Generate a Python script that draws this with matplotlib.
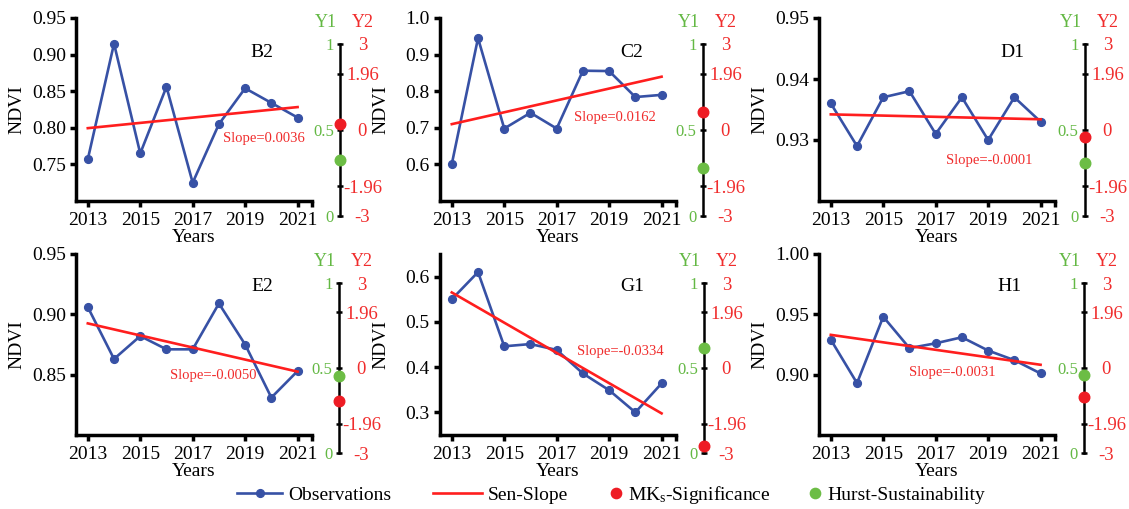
import matplotlib
matplotlib.use("Agg")
import matplotlib.pyplot as plt
from matplotlib.lines import Line2D

plt.rcParams["font.family"] = ["Liberation Serif", "DejaVu Serif"]
plt.rcParams["mathtext.fontset"] = "custom"
plt.rcParams["mathtext.rm"] = "Liberation Serif"
plt.rcParams["mathtext.it"] = "Liberation Serif:italic"
plt.rcParams["axes.unicode_minus"] = False

# ---------------- data ----------------
years = [2013, 2014, 2015, 2016, 2017, 2018, 2019, 2020, 2021]
sites = ["B2", "C2", "D1", "E2", "G1", "H1"]

ndvi_b2 = [0.757, 0.915, 0.765, 0.856, 0.725, 0.805, 0.854, 0.834, 0.814]
ndvi_c2 = [0.601, 0.945, 0.698, 0.741, 0.698, 0.856, 0.855, 0.784, 0.790]
ndvi_d1 = [0.936, 0.929, 0.937, 0.938, 0.931, 0.937, 0.930, 0.937, 0.933]
ndvi_e2 = [0.906, 0.863, 0.882, 0.871, 0.871, 0.909, 0.875, 0.831, 0.853]
ndvi_g1 = [0.550, 0.610, 0.446, 0.451, 0.438, 0.386, 0.349, 0.300, 0.364]
ndvi_h1 = [0.929, 0.893, 0.948, 0.922, 0.926, 0.931, 0.920, 0.912, 0.901]

sen_slope = [0.0036, 0.0162, -0.0001, -0.0050, -0.0334, -0.0031]
sen_start = [0.7995, 0.710, 0.9342, 0.8925, 0.565, 0.9330]   # Sen line value in 2013

mk_z = [0.21, 0.62, -0.26, -1.15, -2.76, -1.03]       # MKs statistic (Y2)
hurst = [0.326, 0.28, 0.311, 0.455, 0.615, 0.456]     # Hurst exponent (Y1)

ndvi_ylims = [(0.70, 0.95), (0.5, 1.0), (0.92, 0.95), (0.80, 0.95), (0.25, 0.65), (0.85, 1.00)]
ndvi_yticks = [[0.75, 0.80, 0.85, 0.90, 0.95],
               [0.6, 0.7, 0.8, 0.9, 1.0],
               [0.93, 0.94, 0.95],
               [0.85, 0.90, 0.95],
               [0.3, 0.4, 0.5, 0.6],
               [0.90, 0.95, 1.00]]
ndvi_fmt = ["{:.2f}", "{:.1f}", "{:.2f}", "{:.2f}", "{:.1f}", "{:.2f}"]
year_ticks = [2013, 2015, 2017, 2019, 2021]

y2_ticks = [-3, -1.96, 0, 1.96, 3]
y2_labels = ["-3", "-1.96", "0", "1.96", "3"]
y1_ticks = [0, 0.5, 1]
y1_labels = ["0", "0.5", "1"]

ndvi_all = [ndvi_b2, ndvi_c2, ndvi_d1, ndvi_e2, ndvi_g1, ndvi_h1]

# ---------------- styling / layout ----------------
BLUE = "#3751A5"
RED = "#FF1E1E"
RED_TXT = "#F02C2C"
GREEN = "#6CBD45"
GREEN_TXT = "#63B843"

W, H = 1129, 509
PT = 0.72  # points per pixel at 100 dpi

x2013 = [88, 452, 831, 88, 452, 831]
row_top = [18, 18, 18, 254, 254, 254]
row_bot = [201, 201, 201, 435, 435, 435]
aux_x = [340, 703, 1085, 339, 704, 1084]
aux_top = [44, 44, 44, 283, 283, 283]
aux_bot = [216, 216, 216, 453, 453, 453]
title_pos = [(0.788, 0.814), (0.814, 0.814), (0.818, 0.814),
             (0.788, 0.818), (0.814, 0.818), (0.809, 0.818)]
slope_pos = [(0.797, 0.344), (0.742, 0.454), (0.720, 0.224),
             (0.580, 0.331), (0.763, 0.459), (0.564, 0.343)]

fig = plt.figure(figsize=(W / 100, H / 100), dpi=100)


def rect(x0, x1, ytop, ybot):
    return [x0 / W, 1 - ybot / H, (x1 - x0) / W, (ybot - ytop) / H]


for i in range(6):
    x0 = x2013[i] - 12
    x1 = x0 + 236
    ax = fig.add_axes(rect(x0, x1, row_top[i], row_bot[i]))
    ax.set_xlim(2012.55, 2021.55)
    ax.set_ylim(*ndvi_ylims[i])
    for s in ("top", "right"):
        ax.spines[s].set_visible(False)
    for s in ("left", "bottom"):
        ax.spines[s].set_linewidth(2.5)
    ax.set_xticks(year_ticks)
    ax.set_xticks([2021.55], minor=True)
    ax.set_yticks(ndvi_yticks[i])
    ax.set_yticklabels([ndvi_fmt[i].format(v) for v in ndvi_yticks[i]])
    ax.tick_params(axis="both", which="both", direction="out", length=4.3, width=2.5,
                   labelsize=14)
    ax.tick_params(axis="x", pad=3.5)
    ax.tick_params(axis="y", pad=3)

    ax.plot(years, ndvi_all[i], "-o", color=BLUE, lw=1.9, ms=5.6, zorder=3, clip_on=False)
    sx = [years[0], years[-1]]
    sy = [sen_start[i], sen_start[i] + sen_slope[i] * (years[-1] - years[0])]
    ax.plot(sx, sy, color=RED, lw=1.9, zorder=4)

    ax.text(*title_pos[i], sites[i], transform=ax.transAxes, ha="center", va="center",
            fontsize=14)
    ax.text(*slope_pos[i], "Slope={:.4f}".format(sen_slope[i]), transform=ax.transAxes,
            ha="center", va="center", fontsize=10.5, color=RED_TXT)

    ax.set_ylabel("NDVI", fontsize=14)
    ax.yaxis.set_label_coords(-0.215, 0.5)
    ax.set_xlabel("Years", fontsize=14)
    ax.xaxis.set_label_coords(0.5, -0.155)

    # Y2 (MKs) scale on the right of the vertical line, Y1 (Hurst) scale on its left
    r = rect(aux_x[i], aux_x[i] + 0.1, aux_top[i], aux_bot[i])
    axr = fig.add_axes(r)
    axg = fig.add_axes(r)

    axr.set_xlim(-1, 1)
    axr.set_ylim(-3, 3)
    axr.patch.set_visible(False)
    for s in ("top", "bottom", "left"):
        axr.spines[s].set_visible(False)
    axr.spines["right"].set_linewidth(1.8)
    axr.set_xticks([])
    axr.yaxis.tick_right()
    axr.set_yticks(y2_ticks)
    axr.set_yticklabels(y2_labels)
    axr.tick_params(axis="y", direction="inout", length=5, width=1.8, labelsize=13.5,
                    labelcolor=RED_TXT, pad=13.5)
    plt.setp(axr.get_yticklabels(), ha="center")

    axg.set_xlim(-1, 1)
    axg.set_ylim(0, 1)
    axg.patch.set_visible(False)
    for s in axg.spines.values():
        s.set_visible(False)
    axg.set_xticks([])
    axg.yaxis.tick_left()
    axg.set_yticks(y1_ticks)
    axg.set_yticklabels(y1_labels)
    axg.tick_params(axis="y", length=0, labelsize=12, labelcolor=GREEN_TXT, pad=4.5)

    axr.plot([0], [mk_z[i]], "o", color="#EE1C24", ms=7.6, zorder=5, clip_on=False)
    axg.plot([0], [hurst[i]], "o", color=GREEN, ms=7.6, zorder=5, clip_on=False)

    axr.annotate("Y1", xy=(0.5, 1), xycoords="axes fraction", xytext=(-14 * PT, 21 * PT),
                 textcoords="offset points", ha="center", va="center", fontsize=13,
                 color=GREEN_TXT)
    axr.annotate("Y2", xy=(0.5, 1), xycoords="axes fraction", xytext=(23 * PT, 21 * PT),
                 textcoords="offset points", ha="center", va="center", fontsize=13,
                 color=RED_TXT)

# ---------------- legend ----------------
legend_y = 1 - 495 / H
fs = 14
em = fs / PT  # font size in pixels

entries = [
    (Line2D([], [], color=BLUE, lw=1.9, marker="o", ms=5.6), "Observations", 237, 45, 6),
    (Line2D([], [], color=RED, lw=1.9), "Sen-Slope", 433, 49, 6),
    (Line2D([], [], ls="none", marker="o", color="#EE1C24", ms=7.4), r"MK$_{\mathrm{s}}$-Significance", 611, 10, 7),
    (Line2D([], [], ls="none", marker="o", color=GREEN, ms=7.4), "Hurst-Sustainability", 810, 10, 7),
]
for handle, label, left_px, hlen_px, pad_px in entries:
    fig.legend([handle], [label], loc="center left", bbox_to_anchor=(left_px / W, legend_y),
               frameon=False, fontsize=fs, handlelength=hlen_px / em,
               handletextpad=pad_px / em, borderpad=0, borderaxespad=0)

fig.savefig("out.png", dpi=100)
